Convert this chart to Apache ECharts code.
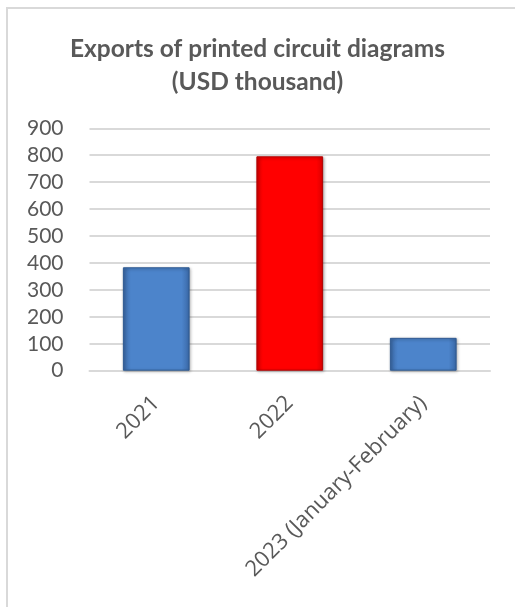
<!DOCTYPE html>
<html>
<head>
<meta charset="utf-8">
<script src="https://cdn.jsdelivr.net/npm/echarts@6/dist/echarts.min.js"></script>
<style>
html,body{margin:0;padding:0;background:#fff;}
#chart{width:515px;height:607px;}
</style>
</head>
<body>
<div id="chart"></div>
<script>
const categories = ['2021', '2022', '2023 (January-February)'];
const values = [384, 796, 122];
const yTicks = { min: 0, max: 900, interval: 100 };

const blue = new echarts.graphic.LinearGradient(0, 0, 1, 0, [
  { offset: 0, color: '#3a68a6' },
  { offset: 0.12, color: '#4c84cb' },
  { offset: 0.88, color: '#4c84cb' },
  { offset: 1, color: '#3a68a6' }
]);
const red = new echarts.graphic.LinearGradient(0, 0, 1, 0, [
  { offset: 0, color: '#d90000' },
  { offset: 0.1, color: '#ff0000' },
  { offset: 0.9, color: '#ff0000' },
  { offset: 1, color: '#d90000' }
]);
const colors = [blue, red, blue];
const borders = ['#2f5a92', '#b00000', '#2f5a92'];

const chart = echarts.init(document.getElementById('chart'), null, { renderer: 'canvas' });
chart.setOption({
  backgroundColor: '#fff',
  animation: false,
  textStyle: { fontFamily: 'Lato' },
  graphic: [{
    type: 'rect',
    shape: { x: 7, y: 8, width: 620, height: 700 },
    style: { fill: 'none', stroke: '#d9d9d9', lineWidth: 2 },
    silent: true, z: -10
  }],
  title: {
    text: 'Exports of printed circuit diagrams\n(USD thousand)',
    left: 'center',
    top: 28,
    textStyle: { fontFamily: 'Lato', fontSize: 24.5, fontWeight: 'bold', color: '#595959', lineHeight: 33 }
  },
  grid: { left: 89.5, right: 25, top: 128.3, bottom: 236.3, containLabel: false },
  xAxis: {
    type: 'category',
    data: categories,
    axisLine: { show: true, lineStyle: { color: '#d9d9d9', width: 2 } },
    axisTick: { show: false },
    axisLabel: { rotate: 45, interval: 0, fontSize: 22, color: '#595959', margin: 29, fontFamily: 'Open Sans' }
  },
  yAxis: {
    type: 'value',
    min: yTicks.min, max: yTicks.max, interval: yTicks.interval,
    axisLine: { show: false },
    axisTick: { show: false },
    splitLine: { lineStyle: { color: '#d9d9d9', width: 2 } },
    axisLabel: { fontSize: 21, color: '#595959', margin: 26, fontFamily: 'Lato' }
  },
  series: [{
    type: 'bar',
    barWidth: '50%',
    data: values.map((v, i) => ({
      value: v,
      itemStyle: {
        color: colors[i],
        borderColor: borders[i],
        borderWidth: 1,
        shadowColor: 'rgba(0,0,0,0.35)',
        shadowBlur: 3,
        shadowOffsetX: 1,
        shadowOffsetY: 1
      }
    }))
  }]
});
</script>
</body>
</html>
